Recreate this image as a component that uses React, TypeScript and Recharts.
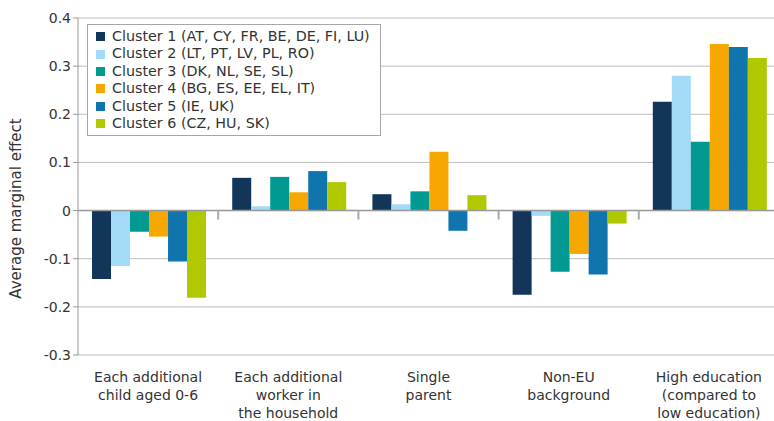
import { Bar, BarChart, CartesianGrid, ReferenceLine, XAxis, YAxis } from 'recharts'

const categories = [
  'Each additional\nchild aged 0-6',
  'Each additional\nworker in\nthe household',
  'Single\nparent',
  'Non-EU\nbackground',
  'High education\n(compared to\nlow education)',
]

const seriesNames = [
  'Cluster 1 (AT, CY, FR, BE, DE, FI, LU)',
  'Cluster 2 (LT, PT, LV, PL, RO)',
  'Cluster 3 (DK, NL, SE, SL)',
  'Cluster 4 (BG, ES, EE, EL, IT)',
  'Cluster 5 (IE, UK)',
  'Cluster 6 (CZ, HU, SK)',
]

const cluster1 = [-0.142, 0.068, 0.034, -0.175, 0.226]
const cluster2 = [-0.115, 0.009, 0.013, -0.011, 0.28]
const cluster3 = [-0.044, 0.07, 0.04, -0.127, 0.143]
const cluster4 = [-0.054, 0.038, 0.122, -0.09, 0.346]
const cluster5 = [-0.106, 0.082, -0.042, -0.133, 0.34]
const cluster6 = [-0.181, 0.059, 0.032, -0.027, 0.317]

const yTicks = [-0.3, -0.2, -0.1, 0, 0.1, 0.2, 0.3, 0.4]

const COLORS = ['#133559', '#a3daf7', '#009a93', '#f6a800', '#1175ad', '#b0c800']
const FONT = '"DejaVu Sans", sans-serif'

const allSeries = [cluster1, cluster2, cluster3, cluster4, cluster5, cluster6]
const data = categories.map((name, i) => {
  const row: Record<string, string | number> = { name }
  allSeries.forEach((s, k) => {
    row['c' + k] = s[i]
  })
  return row
})

function CategoryTick({ x, y, payload }: any) {
  const lines = String(payload.value).split('\n')
  return (
    <text x={x} y={y} textAnchor="middle" fill="#333" fontSize={14} fontFamily={FONT}>
      {lines.map((l, i) => (
        <tspan key={i} x={x} dy={i === 0 ? 19 : 18}>
          {l}
        </tspan>
      ))}
    </text>
  )
}

function YLabel({ viewBox }: any) {
  const cx = viewBox.x - 9
  const cy = viewBox.y + viewBox.height / 2 + 22
  return (
    <text
      x={cx}
      y={cy}
      transform={`rotate(-90 ${cx} ${cy})`}
      textAnchor="middle"
      fontSize={15}
      fill="#333"
      fontFamily={FONT}
    >
      Average marginal effect
    </text>
  )
}

// zero line plus small tick marks between the category groups
function ZeroLine(props: any) {
  const { x1, x2, y1 } = props
  if (x1 == null) return null
  const n = categories.length
  const step = (x2 - x1) / n
  return (
    <g>
      <line x1={x1} x2={x2} y1={y1} y2={y1} stroke="#999" strokeWidth={1.5} />
      {categories.slice(1).map((_, i) => (
        <line
          key={i}
          x1={x1 + step * (i + 1)}
          x2={x1 + step * (i + 1)}
          y1={y1}
          y2={y1 + 9}
          stroke="#aaa"
          strokeWidth={2}
        />
      ))}
    </g>
  )
}

function LegendBox() {
  return (
    <div
      style={{
        position: 'absolute',
        left: 87,
        top: 24,
        border: '1px solid #a6a6a6',
        background: '#fff',
        padding: '3px 10px 3px 8px',
        fontFamily: FONT,
        fontSize: 14.3,
        color: '#333',
        lineHeight: '17.4px',
      }}
    >
      {seriesNames.map((n, i) => (
        <div key={n} style={{ display: 'flex', alignItems: 'center', whiteSpace: 'nowrap' }}>
          <span style={{ width: 9, height: 9, background: COLORS[i], marginRight: 7, display: 'inline-block' }} />
          {n}
        </div>
      ))}
    </div>
  )
}

export default function App() {
  return (
    <div style={{ position: 'absolute', left: 0, top: 0, width: 774, height: 421, overflow: 'hidden', background: '#fff' }}>
      <BarChart
        width={780}
        height={421}
        data={data}
        margin={{ top: 18, right: 1, bottom: 0, left: 30 }}
        barCategoryGap="10%"
        barGap={0}
      >
        <CartesianGrid vertical={false} stroke="#bdbdbd" />
        <XAxis dataKey="name" tick={<CategoryTick />} tickLine={false} axisLine={false} interval={0} height={66} />
        <YAxis
          domain={[-0.3, 0.4]}
          ticks={yTicks}
          width={48}
          tickFormatter={(v: number) => (v === 0 ? '0' : v.toFixed(1))}
          tick={{ fontSize: 14, fill: '#333', fontFamily: FONT }}
          tickLine={{ stroke: '#999' }}
          axisLine={{ stroke: '#999' }}
          tickSize={5}
          label={<YLabel />}
        />
        {seriesNames.map((n, i) => (
          <Bar key={n} dataKey={'c' + i} name={n} fill={COLORS[i]} isAnimationActive={false} />
        ))}
        <ReferenceLine y={0} stroke="#999" shape={(p: any) => <ZeroLine {...p} />} />
      </BarChart>
      <LegendBox />
    </div>
  )
}
